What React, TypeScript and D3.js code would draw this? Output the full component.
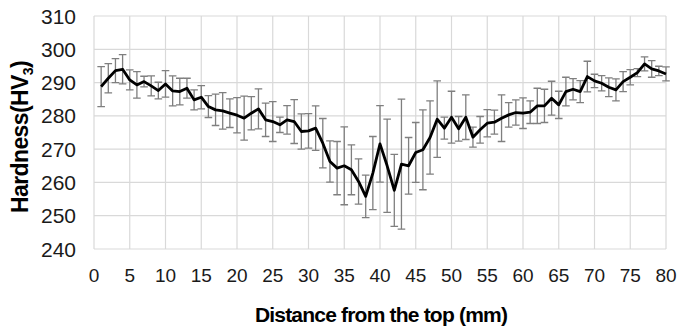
import React, { useRef, useEffect } from 'react';
import * as d3 from 'd3';

// distance from the top (mm), one reading per mm
const distance = [
  1, 2, 3, 4, 5, 6, 7, 8, 9, 10, 11, 12, 13, 14, 15, 16, 17, 18, 19, 20,
  21, 22, 23, 24, 25, 26, 27, 28, 29, 30, 31, 32, 33, 34, 35, 36, 37, 38, 39, 40,
  41, 42, 43, 44, 45, 46, 47, 48, 49, 50, 51, 52, 53, 54, 55, 56, 57, 58, 59, 60,
  61, 62, 63, 64, 65, 66, 67, 68, 69, 70, 71, 72, 73, 74, 75, 76, 77, 78, 79, 80,
];

// mean hardness (HV3)
const hardness = [
  288.8, 291.3, 293.6, 294.0, 290.8, 289.3, 290.3, 289.0, 287.6, 289.6,
  287.5, 287.3, 288.3, 284.8, 285.6, 282.8, 281.8, 281.5, 280.8, 280.2,
  279.3, 280.8, 282.1, 278.8, 278.3, 277.3, 278.8, 278.3, 275.3, 275.5,
  276.3, 271.8, 266.3, 264.3, 265.0, 263.8, 260.3, 255.8, 262.8, 271.6,
  265.0, 257.6, 265.5, 265.0, 269.0, 269.8, 273.5, 279.0, 276.3, 279.6,
  276.1, 279.6, 273.6, 275.8, 277.8, 278.1, 279.3, 280.3, 281.0, 280.8,
  281.1, 283.0, 283.0, 285.3, 283.3, 287.3, 288.0, 287.3, 291.8, 290.5,
  289.8, 288.6, 287.8, 290.3, 291.6, 293.0, 295.6, 294.1, 293.5, 292.6,
];

// standard deviation (error bars)
const spread = [
  6.0, 4.4, 3.6, 4.4, 3.0, 4.0, 1.6, 3.0, 2.5, 4.0,
  4.5, 4.0, 3.0, 3.0, 3.5, 3.3, 4.7, 5.5, 4.3, 5.3,
  6.6, 5.0, 6.0, 5.0, 6.0, 2.3, 4.3, 6.6, 5.3, 5.2,
  6.7, 7.4, 6.2, 8.0, 11.7, 7.5, 6.8, 6.4, 11.0, 11.5,
  14.0, 10.8, 19.5, 8.5, 9.0, 12.0, 11.0, 11.5, 3.3, 7.8,
  3.7, 6.7, 3.0, 4.0, 4.1, 3.6, 7.0, 3.7, 3.8, 4.6,
  3.4, 5.3, 5.0, 5.1, 4.1, 4.3, 3.2, 3.3, 4.6, 2.0,
  2.3, 2.8, 3.3, 3.0, 2.3, 1.2, 2.1, 2.5, 1.4, 2.1,
];

const xTicks = [0, 5, 10, 15, 20, 25, 30, 35, 40, 45, 50, 55, 60, 65, 70, 75, 80];
const yTicks = [240, 250, 260, 270, 280, 290, 300, 310];

const App = () => {
  const svgRef = useRef<SVGSVGElement>(null);

  useEffect(() => {
    document.body.style.margin = '0';
    if (!svgRef.current) return;
    const svg = d3.select(svgRef.current);
    svg.selectAll('*').remove();

    const left = 94;
    const right = 666;
    const top = 16;
    const bottom = 249;

    const x = d3.scaleLinear().domain([0, 80]).range([left, right]);
    const y = d3.scaleLinear().domain([240, 310]).range([bottom, top]);

    const font = 'Arial, "Liberation Sans", sans-serif';

    // gridlines
    svg.append('g')
      .selectAll('line')
      .data(yTicks)
      .enter()
      .append('line')
      .attr('x1', left)
      .attr('x2', right)
      .attr('y1', d => y(d))
      .attr('y2', d => y(d))
      .attr('stroke', '#d9d9d9')
      .attr('stroke-width', 1.2);

    svg.append('g')
      .selectAll('line')
      .data(xTicks)
      .enter()
      .append('line')
      .attr('x1', d => x(d))
      .attr('x2', d => x(d))
      .attr('y1', top)
      .attr('y2', bottom)
      .attr('stroke', '#d9d9d9')
      .attr('stroke-width', 1.2);

    // tick labels
    svg.append('g')
      .selectAll('text')
      .data(yTicks)
      .enter()
      .append('text')
      .attr('x', 76)
      .attr('y', d => y(d))
      .attr('dy', '0.36em')
      .attr('text-anchor', 'end')
      .attr('font-family', font)
      .attr('font-size', 21)
      .attr('fill', '#1a1a1a')
      .text(d => d);

    svg.append('g')
      .selectAll('text')
      .data(xTicks)
      .enter()
      .append('text')
      .attr('x', d => x(d))
      .attr('y', 282)
      .attr('text-anchor', 'middle')
      .attr('font-family', font)
      .attr('font-size', 19)
      .attr('fill', '#1a1a1a')
      .text(d => d);

    // error bars
    const pts = distance.map((d, i) => ({ d, v: hardness[i], e: spread[i] }));
    const cap = 3.8;
    const eb = svg.append('g').attr('stroke', '#7f7f7f').attr('stroke-width', 1.3).attr('fill', 'none');
    eb.selectAll('path')
      .data(pts)
      .enter()
      .append('path')
      .attr('d', p => {
        const cx = x(p.d);
        const y1 = y(p.v + p.e);
        const y2 = y(p.v - p.e);
        return `M${cx},${y1}V${y2}M${cx - cap},${y1}H${cx + cap}M${cx - cap},${y2}H${cx + cap}`;
      });

    // mean line
    const line = d3.line<{ d: number; v: number }>()
      .x(p => x(p.d))
      .y(p => y(p.v));
    svg.append('path')
      .datum(pts)
      .attr('d', line)
      .attr('fill', 'none')
      .attr('stroke', '#000')
      .attr('stroke-width', 2.8)
      .attr('stroke-linejoin', 'round');

    // axis titles
    svg.append('text')
      .attr('x', 381)
      .attr('y', 322)
      .attr('text-anchor', 'middle')
      .attr('font-family', font)
      .attr('font-weight', 'bold')
      .attr('font-size', 21)
      .attr('letter-spacing', -0.8)
      .attr('fill', '#000')
      .text('Distance from the top (mm)');

    const yt = svg.append('text')
      .attr('transform', 'translate(28,137) rotate(-90)')
      .attr('text-anchor', 'middle')
      .attr('font-family', font)
      .attr('font-weight', 'bold')
      .attr('font-size', 23)
      .attr('letter-spacing', -0.6)
      .attr('fill', '#000');
    yt.append('tspan').text('Hardness(HV');
    yt.append('tspan').attr('font-size', 14).attr('dy', 5).text('3');
    yt.append('tspan').attr('dy', -5).text(')');
  }, []);

  return (
    <div style={{ position: 'absolute', left: 0, top: 0 }}>
      <svg ref={svgRef} width={679} height={330} style={{ display: 'block', background: '#fff' }}></svg>
    </div>
  );
};

export default App;
